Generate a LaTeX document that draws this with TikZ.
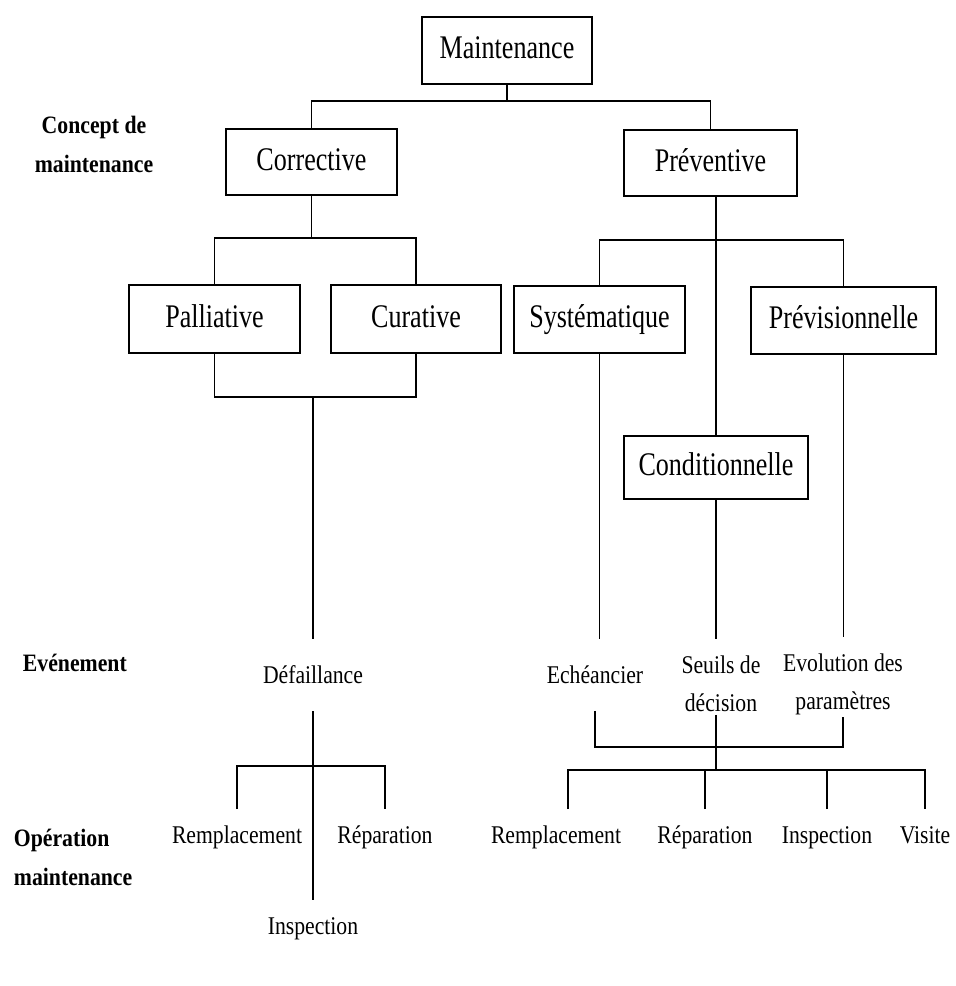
\documentclass[tikz,border=0pt]{standalone}
\usepackage{fontspec}
\setmainfont{Liberation Serif}
\newfontfamily\boxfont[FakeStretch=0.79]{Liberation Serif}
\newfontfamily\evfont[FakeStretch=0.85]{Liberation Serif}
\newfontfamily\labfont[FakeStretch=0.87]{Liberation Serif}
\begin{document}
\begin{tikzpicture}[x=1pt,y=-1pt,
  line width=1.8pt,
  kind/.style={draw, rectangle, inner sep=0pt, text height=23pt, text depth=7pt, font={\boxfont\fontsize{33}{38}\selectfont}},
  evt/.style={inner xsep=0pt, inner ysep=26pt, font={\evfont\fontsize{25.5}{38}\selectfont}},
  evtwo/.style={inner xsep=0pt, inner ysep=2pt, align=center, font={\evfont\fontsize{25.5}{38}\selectfont}},
  op/.style={inner xsep=0pt, inner ysep=15pt, text height=18pt, text depth=6pt, font={\evfont\fontsize{25.5}{38}\selectfont}},
  lab/.style={inner sep=0pt, font={\labfont\bfseries\fontsize{25}{39}\selectfont}}]
\useasboundingbox (0,0) rectangle (956,986);

% row labels
\node[lab, align=center] (lconcept) at (94,144) {Concept de\\maintenance};
\node[lab, anchor=west] (levent) at (22,663) {Evénement};
\node[lab, align=left, anchor=west] (loper) at (13,857) {Opération\\maintenance};

% maintenance concepts
\node[kind, minimum width=170pt, minimum height=67pt] (main) at (507,50.5) {Maintenance};
\node[kind, minimum width=171pt, minimum height=66pt] (corr) at (311.5,162) {Corrective};
\node[kind, minimum width=173pt, minimum height=66pt] (prev) at (710.5,163) {Préventive};
\node[kind, minimum width=171pt, minimum height=68pt] (pall) at (214.5,319) {Palliative};
\node[kind, minimum width=170pt, minimum height=68pt] (cur) at (416,319) {Curative};
\node[kind, minimum width=171pt, minimum height=67pt] (sys) at (599.5,319.5) {Systématique};
\node[kind, minimum width=185pt, minimum height=67pt] (previ) at (843.5,320.5) {Prévisionnelle};
\node[kind, minimum width=184pt, minimum height=63pt] (cond) at (716,467.5) {Conditionnelle};

% events
\node[evt] (defa) at (313,675) {Défaillance};
\node[evt] (ech) at (595,675) {Echéancier};
\node[evtwo] (seuil) at (721,684) {Seuils de\\décision};
\node[evtwo] (evol) at (843,684) {Evolution des\\paramètres};

% operations
\node[op] (rem1) at (237,837) {Remplacement};
\node[op] (rep1) at (385,837) {Réparation};
\node[op] (insp1) at (313,928) {Inspection};
\node[op] (rem2) at (556,837) {Remplacement};
\node[op] (rep2) at (705,837) {Réparation};
\node[op] (insp2) at (827,837) {Inspection};
\node[op] (vis) at (925,837) {Visite};

% tree connectors
\draw (main.south) -- ++(0,16) coordinate (jmain);
\draw (corr.north) |- (jmain) -| (prev.north);
\draw (corr.south) -- ++(0,42) coordinate (jcorr);
\draw (pall.north) |- (jcorr) -| (cur.north);
\draw (pall.south) -- ++(0,43) coordinate (jpc) -| (cur.south);
\draw (jpc -| defa.north) -- (defa.north);
\draw (prev.south -| cond.north) -- (cond.north);
\draw (sys.north) -- ++(0,-45) -| (previ.north);
\draw (sys.south) -- (sys.south |- ech.north);
\draw (cond.south) -- ([yshift=14pt]seuil.north -| cond.south);
\draw (previ.south) -- ([yshift=14pt]evol.north -| previ.south);

% corrective operations
\draw (defa.south) -- (insp1.north);
\path (defa.south) ++(0,55) coordinate (jdef);
\draw (rem1.north) |- (jdef) -| (rep1.north);

% preventive operations
\draw (ech.south) -- ++(0,36) coordinate (jev) -| (evol.south);
\draw (seuil.south -| cond.south) -- ++(0,55) coordinate (jseu);
\draw ([xshift=12pt]rem2.north) |- (jseu) -| (vis.north);
\draw (rep2.north) -- (rep2.north |- jseu);
\draw (insp2.north) -- (insp2.north |- jseu);
\end{tikzpicture}
\end{document}
